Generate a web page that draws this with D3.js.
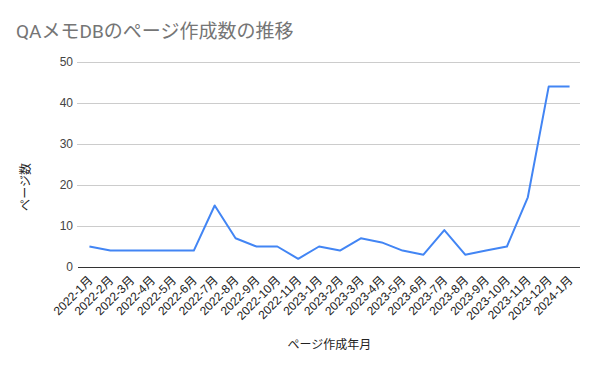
<!DOCTYPE html>
<html><head><meta charset="utf-8">
<script src="https://cdn.jsdelivr.net/npm/d3@7"></script>
<style>body{margin:0;background:#fff}</style>
</head><body>
<svg id="c" width="600" height="371"></svg>
<script>
const categories = ["2022-1月","2022-2月","2022-3月","2022-4月","2022-5月","2022-6月","2022-7月","2022-8月","2022-9月","2022-10月","2022-11月","2023-1月","2023-2月","2023-3月","2023-4月","2023-5月","2023-6月","2023-7月","2023-8月","2023-9月","2023-10月","2023-11月","2023-12月","2024-1月"];
const pageCounts = [5,4,4,4,4,4,15,7,5,5,2,5,4,7,6,4,3,9,3,4,5,17,44,44];
const yTicks = [0,10,20,30,40,50];
const title = "QAメモDBのページ作成数の推移";
const xTitle = "ページ作成年月";
const yTitle = "ページ数";

const svg = d3.select("#c");
const m = {left:79, right:20, top:62, bottom:104};
const W = 600, H = 371;
const x = d3.scaleBand().domain(categories).range([m.left, W-m.right]);
const y = d3.scaleLinear().domain([0,50]).range([H-m.bottom, m.top]);
const axisFont = "Arial, 'Liberation Sans', 'Noto Sans CJK JP', sans-serif";

svg.append("rect").attr("width",W).attr("height",H).attr("fill","#fff");

svg.append("text").attr("x",16).attr("y",38).text(title)
  .attr("font-family","Roboto, 'Noto Sans CJK JP', sans-serif").attr("font-size",19).attr("fill","#757575");

// grid
const yAxis = d3.axisLeft(y).tickValues(yTicks).tickSize(-(W-m.left-m.right)).tickPadding(6);
const gy = svg.append("g").attr("transform",`translate(${m.left},0)`).call(yAxis);
gy.select(".domain").remove();
gy.selectAll(".tick line").attr("stroke","#cccccc").attr("x1",-2);
gy.selectAll(".tick text").attr("font-family",axisFont).attr("font-size",12).attr("fill","#444");
gy.selectAll(".tick").filter(d=>d===0).select("line").attr("stroke","#333").attr("x1",-1);

// x axis labels
const gx = svg.append("g").attr("transform",`translate(0,${H-m.bottom})`);
gx.selectAll("text").data(categories).enter().append("text")
  .attr("transform", d=>`translate(${x(d)+x.bandwidth()/2+4},${14}) rotate(-45)`)
  .attr("text-anchor","end").attr("font-family",axisFont).attr("font-size",12).attr("fill","#222")
  .text(d=>d);

// line
const line = d3.line().x((d,i)=>x(categories[i])+x.bandwidth()/2).y(d=>y(d));
svg.append("path").datum(pageCounts).attr("d",line).attr("fill","none")
  .attr("stroke","#4285f4").attr("stroke-width",2).attr("stroke-linejoin","round");

// axis titles
svg.append("text").attr("x",(m.left+W-m.right)/2).attr("y",349).attr("text-anchor","middle")
  .attr("font-family",axisFont).attr("font-size",12).attr("fill","#222").text(xTitle);
svg.append("text").attr("transform",`translate(30,${187}) rotate(-90)`).attr("text-anchor","middle")
  .attr("font-family",axisFont).attr("font-size",12).attr("fill","#222").text(yTitle);
</script>
</body></html>
